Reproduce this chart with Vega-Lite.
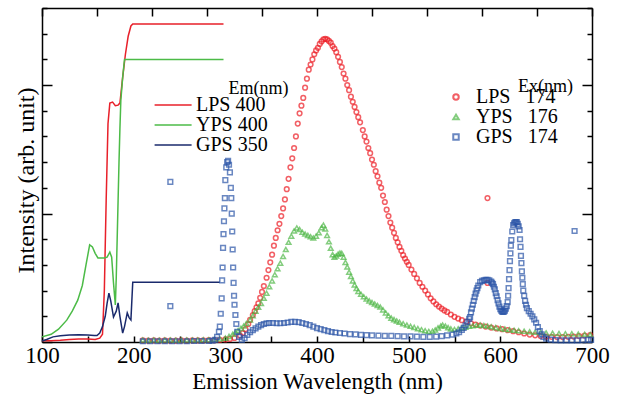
{
"$schema": "https://vega.github.io/schema/vega-lite/v6.json",
"width": 550, "height": 334,
"autosize": {"type": "none"},
"padding": {"left": 42, "top": 8, "right": 26, "bottom": 52},
"background": "white",
"config": {
  "view": {"stroke": null},
  "font": "Liberation Serif",
  "axis": {"grid": false, "domainColor": "black", "domainWidth": 1.5, "tickColor": "black", "tickWidth": 1.5,
    "labelFont": "Liberation Serif", "labelFontSize": 23, "labelColor": "black", "titleFont": "Liberation Serif",
    "titleFontSize": 23, "titleFontWeight": "normal", "titleColor": "black", "labelFlush": false, "labelOverlap": false}
},
"datasets": {
"ex": [
{"sample":"LPS","nm":100,"v":0.05},{"sample":"LPS","nm":110,"v":0.05},{"sample":"LPS","nm":120,"v":0.07},{"sample":"LPS","nm":130,"v":0.1},{"sample":"LPS","nm":140,"v":0.12},{"sample":"LPS","nm":150,"v":0.12},{"sample":"LPS","nm":158,"v":0.1},{"sample":"LPS","nm":163,"v":0.15},{"sample":"LPS","nm":166,"v":0.3},{"sample":"LPS","nm":168,"v":2.0},{"sample":"LPS","nm":170,"v":5.5},{"sample":"LPS","nm":172,"v":8.5},{"sample":"LPS","nm":174,"v":9.3},{"sample":"LPS","nm":177,"v":9.34},{"sample":"LPS","nm":180,"v":9.2},{"sample":"LPS","nm":183,"v":9.22},{"sample":"LPS","nm":185,"v":9.3},{"sample":"LPS","nm":188,"v":10.3},{"sample":"LPS","nm":191,"v":11.2},{"sample":"LPS","nm":194,"v":11.9},{"sample":"LPS","nm":197,"v":12.3},{"sample":"LPS","nm":199,"v":12.38},{"sample":"LPS","nm":298,"v":12.38},
{"sample":"YPS","nm":100,"v":0.2},{"sample":"YPS","nm":110,"v":0.3},{"sample":"YPS","nm":118,"v":0.5},{"sample":"YPS","nm":127,"v":0.85},{"sample":"YPS","nm":133,"v":1.2},{"sample":"YPS","nm":139,"v":1.63},{"sample":"YPS","nm":144,"v":2.2},{"sample":"YPS","nm":148,"v":3.0},{"sample":"YPS","nm":152,"v":3.78},{"sample":"YPS","nm":155,"v":3.7},{"sample":"YPS","nm":158,"v":3.45},{"sample":"YPS","nm":161,"v":3.27},{"sample":"YPS","nm":168,"v":3.27},{"sample":"YPS","nm":171,"v":3.3},{"sample":"YPS","nm":174,"v":3.5},{"sample":"YPS","nm":176,"v":3.3},{"sample":"YPS","nm":178,"v":2.3},{"sample":"YPS","nm":180,"v":1.44},{"sample":"YPS","nm":181,"v":2.5},{"sample":"YPS","nm":182,"v":4.0},{"sample":"YPS","nm":183,"v":5.5},{"sample":"YPS","nm":184,"v":7.0},{"sample":"YPS","nm":185,"v":8.3},{"sample":"YPS","nm":186,"v":9.4},{"sample":"YPS","nm":188,"v":10.3},{"sample":"YPS","nm":190,"v":11.0},{"sample":"YPS","nm":298,"v":11.0},
{"sample":"GPS","nm":100,"v":0.04},{"sample":"GPS","nm":105,"v":0.1},{"sample":"GPS","nm":112,"v":0.2},{"sample":"GPS","nm":120,"v":0.24},{"sample":"GPS","nm":130,"v":0.27},{"sample":"GPS","nm":140,"v":0.28},{"sample":"GPS","nm":150,"v":0.27},{"sample":"GPS","nm":157,"v":0.25},{"sample":"GPS","nm":160,"v":0.25},{"sample":"GPS","nm":163,"v":0.35},{"sample":"GPS","nm":166,"v":0.6},{"sample":"GPS","nm":169,"v":1.0},{"sample":"GPS","nm":171,"v":1.5},{"sample":"GPS","nm":173,"v":1.9},{"sample":"GPS","nm":175,"v":1.6},{"sample":"GPS","nm":178,"v":0.97},{"sample":"GPS","nm":181,"v":1.2},{"sample":"GPS","nm":183,"v":1.52},{"sample":"GPS","nm":185,"v":1.0},{"sample":"GPS","nm":188,"v":0.35},{"sample":"GPS","nm":190,"v":0.6},{"sample":"GPS","nm":193,"v":1.13},{"sample":"GPS","nm":195,"v":0.95},{"sample":"GPS","nm":197,"v":0.86},{"sample":"GPS","nm":198,"v":1.6},{"sample":"GPS","nm":199,"v":2.33},{"sample":"GPS","nm":294,"v":2.33}
],
"em": [
{"series":"LPS","nm":210,"v":0.06},{"series":"LPS","nm":216,"v":0.05},{"series":"LPS","nm":222,"v":0.06},{"series":"LPS","nm":228,"v":0.05},{"series":"LPS","nm":234,"v":0.06},{"series":"LPS","nm":240,"v":0.05},{"series":"LPS","nm":246,"v":0.05},{"series":"LPS","nm":252,"v":0.06},{"series":"LPS","nm":258,"v":0.05},{"series":"LPS","nm":264,"v":0.06},{"series":"LPS","nm":270,"v":0.06},{"series":"LPS","nm":276,"v":0.06},{"series":"LPS","nm":282,"v":0.07},{"series":"LPS","nm":288,"v":0.07},{"series":"LPS","nm":294,"v":0.08},{"series":"LPS","nm":300,"v":0.1},{"series":"LPS","nm":305,"v":0.12},{"series":"LPS","nm":310,"v":0.16},{"series":"LPS","nm":316,"v":0.25},{"series":"LPS","nm":319,"v":0.35},{"series":"LPS","nm":322,"v":0.5},{"series":"LPS","nm":325,"v":0.7},{"series":"LPS","nm":327,"v":0.86},{"series":"LPS","nm":330,"v":1.05},{"series":"LPS","nm":332,"v":1.2},{"series":"LPS","nm":334,"v":1.35},{"series":"LPS","nm":336,"v":1.5},{"series":"LPS","nm":338,"v":1.72},{"series":"LPS","nm":340,"v":1.95},{"series":"LPS","nm":342,"v":2.18},{"series":"LPS","nm":345,"v":2.5},{"series":"LPS","nm":347,"v":2.8},{"series":"LPS","nm":349,"v":3.1},{"series":"LPS","nm":351,"v":3.4},{"series":"LPS","nm":353,"v":3.75},{"series":"LPS","nm":355,"v":4.05},{"series":"LPS","nm":357,"v":4.35},{"series":"LPS","nm":359,"v":4.6},{"series":"LPS","nm":361,"v":4.9},{"series":"LPS","nm":363,"v":5.2},{"series":"LPS","nm":365,"v":5.55},{"series":"LPS","nm":367,"v":5.95},{"series":"LPS","nm":369,"v":6.35},{"series":"LPS","nm":371,"v":6.8},{"series":"LPS","nm":373,"v":7.15},{"series":"LPS","nm":375,"v":7.55},{"series":"LPS","nm":377,"v":8.0},{"series":"LPS","nm":379,"v":8.5},{"series":"LPS","nm":381,"v":8.9},{"series":"LPS","nm":383,"v":9.2},{"series":"LPS","nm":385,"v":9.5},{"series":"LPS","nm":387,"v":9.9},{"series":"LPS","nm":389,"v":10.25},{"series":"LPS","nm":391,"v":10.6},{"series":"LPS","nm":393,"v":10.8},{"series":"LPS","nm":395,"v":11.0},{"series":"LPS","nm":397,"v":11.2},{"series":"LPS","nm":399,"v":11.35},{"series":"LPS","nm":401,"v":11.45},{"series":"LPS","nm":403,"v":11.6},{"series":"LPS","nm":405,"v":11.7},{"series":"LPS","nm":407,"v":11.78},{"series":"LPS","nm":409,"v":11.8},{"series":"LPS","nm":411,"v":11.78},{"series":"LPS","nm":413,"v":11.72},{"series":"LPS","nm":415,"v":11.65},{"series":"LPS","nm":417,"v":11.52},{"series":"LPS","nm":419,"v":11.42},{"series":"LPS","nm":421,"v":11.28},{"series":"LPS","nm":423,"v":11.1},{"series":"LPS","nm":425,"v":10.9},{"series":"LPS","nm":427,"v":10.7},{"series":"LPS","nm":429,"v":10.45},{"series":"LPS","nm":431,"v":10.25},{"series":"LPS","nm":433,"v":10.0},{"series":"LPS","nm":435,"v":9.8},{"series":"LPS","nm":437,"v":9.55},{"series":"LPS","nm":439,"v":9.35},{"series":"LPS","nm":441,"v":9.15},{"series":"LPS","nm":443,"v":8.95},{"series":"LPS","nm":445,"v":8.75},{"series":"LPS","nm":447,"v":8.55},{"series":"LPS","nm":450,"v":8.25},{"series":"LPS","nm":452,"v":8.0},{"series":"LPS","nm":454,"v":7.8},{"series":"LPS","nm":456,"v":7.55},{"series":"LPS","nm":458,"v":7.35},{"series":"LPS","nm":460,"v":7.1},{"series":"LPS","nm":462,"v":6.9},{"series":"LPS","nm":464,"v":6.65},{"series":"LPS","nm":466,"v":6.45},{"series":"LPS","nm":468,"v":6.2},{"series":"LPS","nm":470,"v":6.0},{"series":"LPS","nm":472,"v":5.7},{"series":"LPS","nm":474,"v":5.45},{"series":"LPS","nm":476,"v":5.15},{"series":"LPS","nm":478,"v":4.9},{"series":"LPS","nm":480,"v":4.65},{"series":"LPS","nm":482,"v":4.45},{"series":"LPS","nm":484,"v":4.25},{"series":"LPS","nm":486,"v":4.05},{"series":"LPS","nm":488,"v":3.88},{"series":"LPS","nm":490,"v":3.7},{"series":"LPS","nm":492,"v":3.55},{"series":"LPS","nm":494,"v":3.38},{"series":"LPS","nm":496,"v":3.25},{"series":"LPS","nm":498,"v":3.12},{"series":"LPS","nm":500,"v":3.0},{"series":"LPS","nm":503,"v":2.82},{"series":"LPS","nm":506,"v":2.65},{"series":"LPS","nm":509,"v":2.48},{"series":"LPS","nm":512,"v":2.3},{"series":"LPS","nm":515,"v":2.15},{"series":"LPS","nm":518,"v":2.0},{"series":"LPS","nm":521,"v":1.85},{"series":"LPS","nm":524,"v":1.7},{"series":"LPS","nm":527,"v":1.58},{"series":"LPS","nm":530,"v":1.47},{"series":"LPS","nm":533,"v":1.38},{"series":"LPS","nm":536,"v":1.3},{"series":"LPS","nm":539,"v":1.23},{"series":"LPS","nm":542,"v":1.17},{"series":"LPS","nm":546,"v":1.07},{"series":"LPS","nm":550,"v":0.98},{"series":"LPS","nm":554,"v":0.91},{"series":"LPS","nm":558,"v":0.85},{"series":"LPS","nm":563,"v":0.79},{"series":"LPS","nm":568,"v":0.73},{"series":"LPS","nm":573,"v":0.68},{"series":"LPS","nm":578,"v":0.64},{"series":"LPS","nm":584,"v":0.6},{"series":"LPS","nm":590,"v":0.56},{"series":"LPS","nm":596,"v":0.53},{"series":"LPS","nm":602,"v":0.5},{"series":"LPS","nm":608,"v":0.46},{"series":"LPS","nm":614,"v":0.42},{"series":"LPS","nm":620,"v":0.38},{"series":"LPS","nm":626,"v":0.33},{"series":"LPS","nm":632,"v":0.29},{"series":"LPS","nm":638,"v":0.26},{"series":"LPS","nm":644,"v":0.23},{"series":"LPS","nm":650,"v":0.21},{"series":"LPS","nm":656,"v":0.2},{"series":"LPS","nm":662,"v":0.19},{"series":"LPS","nm":668,"v":0.19},{"series":"LPS","nm":674,"v":0.2},{"series":"LPS","nm":680,"v":0.21},{"series":"LPS","nm":686,"v":0.23},{"series":"LPS","nm":692,"v":0.25},{"series":"LPS","nm":698,"v":0.27},{"series":"LPS","nm":586,"v":5.6},{"series":"LPS","nm":586,"v":2.3},
{"series":"YPS","nm":210,"v":0.08},{"series":"YPS","nm":216,"v":0.07},{"series":"YPS","nm":222,"v":0.08},{"series":"YPS","nm":228,"v":0.07},{"series":"YPS","nm":234,"v":0.08},{"series":"YPS","nm":240,"v":0.08},{"series":"YPS","nm":246,"v":0.07},{"series":"YPS","nm":252,"v":0.08},{"series":"YPS","nm":258,"v":0.08},{"series":"YPS","nm":264,"v":0.08},{"series":"YPS","nm":270,"v":0.08},{"series":"YPS","nm":276,"v":0.09},{"series":"YPS","nm":282,"v":0.09},{"series":"YPS","nm":288,"v":0.1},{"series":"YPS","nm":294,"v":0.12},{"series":"YPS","nm":300,"v":0.15},{"series":"YPS","nm":304,"v":0.22},{"series":"YPS","nm":308,"v":0.3},{"series":"YPS","nm":311,"v":0.38},{"series":"YPS","nm":314,"v":0.45},{"series":"YPS","nm":317,"v":0.53},{"series":"YPS","nm":320,"v":0.62},{"series":"YPS","nm":323,"v":0.72},{"series":"YPS","nm":327,"v":0.86},{"series":"YPS","nm":330,"v":1.02},{"series":"YPS","nm":333,"v":1.2},{"series":"YPS","nm":336,"v":1.35},{"series":"YPS","nm":339,"v":1.5},{"series":"YPS","nm":342,"v":1.7},{"series":"YPS","nm":345,"v":1.9},{"series":"YPS","nm":348,"v":2.15},{"series":"YPS","nm":351,"v":2.38},{"series":"YPS","nm":354,"v":2.62},{"series":"YPS","nm":357,"v":2.85},{"series":"YPS","nm":360,"v":3.07},{"series":"YPS","nm":363,"v":3.33},{"series":"YPS","nm":366,"v":3.6},{"series":"YPS","nm":369,"v":3.88},{"series":"YPS","nm":372,"v":4.12},{"series":"YPS","nm":375,"v":4.32},{"series":"YPS","nm":378,"v":4.44},{"series":"YPS","nm":381,"v":4.38},{"series":"YPS","nm":384,"v":4.27},{"series":"YPS","nm":387,"v":4.2},{"series":"YPS","nm":390,"v":4.15},{"series":"YPS","nm":393,"v":4.1},{"series":"YPS","nm":396,"v":4.05},{"series":"YPS","nm":399,"v":4.12},{"series":"YPS","nm":402,"v":4.25},{"series":"YPS","nm":405,"v":4.45},{"series":"YPS","nm":407,"v":4.55},{"series":"YPS","nm":409,"v":4.4},{"series":"YPS","nm":411,"v":4.15},{"series":"YPS","nm":413,"v":3.9},{"series":"YPS","nm":415,"v":3.65},{"series":"YPS","nm":417,"v":3.4},{"series":"YPS","nm":419,"v":3.3},{"series":"YPS","nm":421,"v":3.35},{"series":"YPS","nm":423,"v":3.42},{"series":"YPS","nm":425,"v":3.46},{"series":"YPS","nm":427,"v":3.45},{"series":"YPS","nm":429,"v":3.3},{"series":"YPS","nm":431,"v":3.1},{"series":"YPS","nm":433,"v":2.92},{"series":"YPS","nm":435,"v":2.72},{"series":"YPS","nm":437,"v":2.55},{"series":"YPS","nm":439,"v":2.38},{"series":"YPS","nm":441,"v":2.22},{"series":"YPS","nm":443,"v":2.08},{"series":"YPS","nm":445,"v":1.97},{"series":"YPS","nm":448,"v":1.86},{"series":"YPS","nm":451,"v":1.76},{"series":"YPS","nm":454,"v":1.67},{"series":"YPS","nm":457,"v":1.6},{"series":"YPS","nm":460,"v":1.54},{"series":"YPS","nm":463,"v":1.48},{"series":"YPS","nm":466,"v":1.42},{"series":"YPS","nm":469,"v":1.36},{"series":"YPS","nm":472,"v":1.25},{"series":"YPS","nm":475,"v":1.13},{"series":"YPS","nm":478,"v":1.02},{"series":"YPS","nm":481,"v":0.93},{"series":"YPS","nm":484,"v":0.87},{"series":"YPS","nm":487,"v":0.82},{"series":"YPS","nm":490,"v":0.77},{"series":"YPS","nm":494,"v":0.71},{"series":"YPS","nm":498,"v":0.66},{"series":"YPS","nm":502,"v":0.61},{"series":"YPS","nm":506,"v":0.57},{"series":"YPS","nm":510,"v":0.52},{"series":"YPS","nm":514,"v":0.48},{"series":"YPS","nm":518,"v":0.44},{"series":"YPS","nm":522,"v":0.41},{"series":"YPS","nm":526,"v":0.42},{"series":"YPS","nm":529,"v":0.47},{"series":"YPS","nm":532,"v":0.55},{"series":"YPS","nm":535,"v":0.62},{"series":"YPS","nm":537,"v":0.66},{"series":"YPS","nm":540,"v":0.62},{"series":"YPS","nm":543,"v":0.56},{"series":"YPS","nm":546,"v":0.51},{"series":"YPS","nm":550,"v":0.49},{"series":"YPS","nm":554,"v":0.51},{"series":"YPS","nm":558,"v":0.55},{"series":"YPS","nm":562,"v":0.58},{"series":"YPS","nm":566,"v":0.61},{"series":"YPS","nm":570,"v":0.63},{"series":"YPS","nm":574,"v":0.65},{"series":"YPS","nm":578,"v":0.66},{"series":"YPS","nm":582,"v":0.64},{"series":"YPS","nm":586,"v":0.62},{"series":"YPS","nm":590,"v":0.59},{"series":"YPS","nm":595,"v":0.56},{"series":"YPS","nm":600,"v":0.53},{"series":"YPS","nm":605,"v":0.5},{"series":"YPS","nm":610,"v":0.48},{"series":"YPS","nm":615,"v":0.46},{"series":"YPS","nm":620,"v":0.44},{"series":"YPS","nm":626,"v":0.42},{"series":"YPS","nm":632,"v":0.4},{"series":"YPS","nm":638,"v":0.38},{"series":"YPS","nm":644,"v":0.37},{"series":"YPS","nm":650,"v":0.35},{"series":"YPS","nm":657,"v":0.34},{"series":"YPS","nm":664,"v":0.33},{"series":"YPS","nm":671,"v":0.32},{"series":"YPS","nm":678,"v":0.32},{"series":"YPS","nm":685,"v":0.31},{"series":"YPS","nm":692,"v":0.3},{"series":"YPS","nm":698,"v":0.29},
{"series":"GPS","nm":210,"v":0.03},{"series":"GPS","nm":218,"v":0.03},{"series":"GPS","nm":226,"v":0.03},{"series":"GPS","nm":234,"v":0.03},{"series":"GPS","nm":242,"v":0.03},{"series":"GPS","nm":250,"v":0.03},{"series":"GPS","nm":258,"v":0.03},{"series":"GPS","nm":266,"v":0.04},{"series":"GPS","nm":274,"v":0.04},{"series":"GPS","nm":282,"v":0.04},{"series":"GPS","nm":286,"v":0.05},{"series":"GPS","nm":289,"v":0.08},{"series":"GPS","nm":291,"v":0.2},{"series":"GPS","nm":293,"v":0.4},{"series":"GPS","nm":294,"v":0.6},{"series":"GPS","nm":295,"v":1.1},{"series":"GPS","nm":296,"v":1.7},{"series":"GPS","nm":296.5,"v":2.4},{"series":"GPS","nm":297,"v":2.9},{"series":"GPS","nm":297.5,"v":3.66},{"series":"GPS","nm":298,"v":4.2},{"series":"GPS","nm":298.5,"v":4.7},{"series":"GPS","nm":299,"v":5.2},{"series":"GPS","nm":299.5,"v":5.6},{"series":"GPS","nm":300,"v":6.3},{"series":"GPS","nm":301,"v":6.8},{"series":"GPS","nm":302,"v":7.0},{"series":"GPS","nm":303,"v":7.05},{"series":"GPS","nm":304,"v":6.9},{"series":"GPS","nm":305,"v":6.6},{"series":"GPS","nm":306,"v":6.0},{"series":"GPS","nm":306.5,"v":5.6},{"series":"GPS","nm":307,"v":5.0},{"series":"GPS","nm":307.5,"v":4.3},{"series":"GPS","nm":308,"v":3.6},{"series":"GPS","nm":308.5,"v":2.9},{"series":"GPS","nm":309,"v":2.3},{"series":"GPS","nm":309.5,"v":1.8},{"series":"GPS","nm":310,"v":1.45},{"series":"GPS","nm":311,"v":1.05},{"series":"GPS","nm":312,"v":0.7},{"series":"GPS","nm":313,"v":0.4},{"series":"GPS","nm":315,"v":0.2},{"series":"GPS","nm":318,"v":0.08},{"series":"GPS","nm":321,"v":0.15},{"series":"GPS","nm":324,"v":0.28},{"series":"GPS","nm":327,"v":0.38},{"series":"GPS","nm":330,"v":0.46},{"series":"GPS","nm":333,"v":0.53},{"series":"GPS","nm":336,"v":0.6},{"series":"GPS","nm":339,"v":0.66},{"series":"GPS","nm":342,"v":0.7},{"series":"GPS","nm":345,"v":0.73},{"series":"GPS","nm":348,"v":0.74},{"series":"GPS","nm":352,"v":0.74},{"series":"GPS","nm":356,"v":0.73},{"series":"GPS","nm":360,"v":0.73},{"series":"GPS","nm":364,"v":0.74},{"series":"GPS","nm":368,"v":0.76},{"series":"GPS","nm":372,"v":0.78},{"series":"GPS","nm":376,"v":0.78},{"series":"GPS","nm":380,"v":0.77},{"series":"GPS","nm":384,"v":0.74},{"series":"GPS","nm":388,"v":0.7},{"series":"GPS","nm":392,"v":0.66},{"series":"GPS","nm":396,"v":0.6},{"series":"GPS","nm":400,"v":0.54},{"series":"GPS","nm":404,"v":0.5},{"series":"GPS","nm":408,"v":0.46},{"series":"GPS","nm":412,"v":0.42},{"series":"GPS","nm":416,"v":0.39},{"series":"GPS","nm":420,"v":0.37},{"series":"GPS","nm":425,"v":0.35},{"series":"GPS","nm":430,"v":0.33},{"series":"GPS","nm":436,"v":0.31},{"series":"GPS","nm":442,"v":0.3},{"series":"GPS","nm":448,"v":0.28},{"series":"GPS","nm":454,"v":0.27},{"series":"GPS","nm":460,"v":0.26},{"series":"GPS","nm":467,"v":0.25},{"series":"GPS","nm":474,"v":0.24},{"series":"GPS","nm":481,"v":0.24},{"series":"GPS","nm":488,"v":0.23},{"series":"GPS","nm":495,"v":0.22},{"series":"GPS","nm":502,"v":0.22},{"series":"GPS","nm":509,"v":0.21},{"series":"GPS","nm":516,"v":0.2},{"series":"GPS","nm":523,"v":0.2},{"series":"GPS","nm":530,"v":0.21},{"series":"GPS","nm":536,"v":0.23},{"series":"GPS","nm":542,"v":0.26},{"series":"GPS","nm":548,"v":0.29},{"series":"GPS","nm":552,"v":0.33},{"series":"GPS","nm":555,"v":0.38},{"series":"GPS","nm":558,"v":0.47},{"series":"GPS","nm":560,"v":0.55},{"series":"GPS","nm":562,"v":0.65},{"series":"GPS","nm":564,"v":0.78},{"series":"GPS","nm":566,"v":0.9},{"series":"GPS","nm":567,"v":0.97},{"series":"GPS","nm":568,"v":1.15},{"series":"GPS","nm":569,"v":1.3},{"series":"GPS","nm":570,"v":1.45},{"series":"GPS","nm":571,"v":1.6},{"series":"GPS","nm":572,"v":1.75},{"series":"GPS","nm":573,"v":1.88},{"series":"GPS","nm":574,"v":2.0},{"series":"GPS","nm":575,"v":2.1},{"series":"GPS","nm":576,"v":2.2},{"series":"GPS","nm":578,"v":2.33},{"series":"GPS","nm":580,"v":2.38},{"series":"GPS","nm":582,"v":2.4},{"series":"GPS","nm":584,"v":2.42},{"series":"GPS","nm":586,"v":2.42},{"series":"GPS","nm":588,"v":2.4},{"series":"GPS","nm":590,"v":2.35},{"series":"GPS","nm":591,"v":2.3},{"series":"GPS","nm":592,"v":2.25},{"series":"GPS","nm":593,"v":2.15},{"series":"GPS","nm":594,"v":2.05},{"series":"GPS","nm":595,"v":1.9},{"series":"GPS","nm":596,"v":1.78},{"series":"GPS","nm":597,"v":1.63},{"series":"GPS","nm":598,"v":1.5},{"series":"GPS","nm":599,"v":1.38},{"series":"GPS","nm":600,"v":1.28},{"series":"GPS","nm":601,"v":1.22},{"series":"GPS","nm":602,"v":1.18},{"series":"GPS","nm":603,"v":1.17},{"series":"GPS","nm":604,"v":1.18},{"series":"GPS","nm":605,"v":1.22},{"series":"GPS","nm":606,"v":1.3},{"series":"GPS","nm":607,"v":1.4},{"series":"GPS","nm":608,"v":1.55},{"series":"GPS","nm":608.5,"v":1.8},{"series":"GPS","nm":609,"v":2.1},{"series":"GPS","nm":609.5,"v":2.45},{"series":"GPS","nm":610,"v":2.8},{"series":"GPS","nm":610.5,"v":3.15},{"series":"GPS","nm":611,"v":3.45},{"series":"GPS","nm":611.5,"v":3.75},{"series":"GPS","nm":612,"v":3.97},{"series":"GPS","nm":613,"v":4.3},{"series":"GPS","nm":614,"v":4.55},{"series":"GPS","nm":615,"v":4.62},{"series":"GPS","nm":616,"v":4.66},{"series":"GPS","nm":617,"v":4.67},{"series":"GPS","nm":618,"v":4.67},{"series":"GPS","nm":619,"v":4.6},{"series":"GPS","nm":620,"v":4.5},{"series":"GPS","nm":621,"v":4.36},{"series":"GPS","nm":621.5,"v":4.0},{"series":"GPS","nm":622,"v":3.7},{"series":"GPS","nm":622.5,"v":3.35},{"series":"GPS","nm":623,"v":3.07},{"series":"GPS","nm":623.5,"v":2.75},{"series":"GPS","nm":624,"v":2.5},{"series":"GPS","nm":624.5,"v":2.25},{"series":"GPS","nm":625,"v":2.0},{"series":"GPS","nm":626,"v":1.8},{"series":"GPS","nm":627,"v":1.6},{"series":"GPS","nm":628,"v":1.45},{"series":"GPS","nm":629,"v":1.32},{"series":"GPS","nm":631,"v":1.2},{"series":"GPS","nm":633,"v":1.1},{"series":"GPS","nm":635,"v":1.0},{"series":"GPS","nm":637,"v":0.88},{"series":"GPS","nm":639,"v":0.75},{"series":"GPS","nm":641,"v":0.58},{"series":"GPS","nm":643,"v":0.42},{"series":"GPS","nm":645,"v":0.3},{"series":"GPS","nm":647,"v":0.2},{"series":"GPS","nm":650,"v":0.13},{"series":"GPS","nm":655,"v":0.09},{"series":"GPS","nm":660,"v":0.07},{"series":"GPS","nm":666,"v":0.06},{"series":"GPS","nm":672,"v":0.06},{"series":"GPS","nm":678,"v":0.06},{"series":"GPS","nm":684,"v":0.06},{"series":"GPS","nm":690,"v":0.07},{"series":"GPS","nm":696,"v":0.08},{"series":"GPS","nm":699,"v":0.08},{"series":"GPS","nm":240,"v":6.23},{"series":"GPS","nm":240,"v":1.4},{"series":"GPS","nm":681,"v":4.32}
]
},
"layer": [
 {
  "data": {"name": "ex"},
  "mark": {"type": "line", "strokeWidth": 1.5},
  "encoding": {
   "x": {"field": "nm", "type": "quantitative", "scale": {"domain": [100, 700], "nice": false, "zero": false},
     "axis": {"orient": "bottom", "values": [100,150,200,250,300,350,400,450,500,550,600,650,700],
       "labelExpr": "datum.value % 100 === 0 ? datum.label : ''", "tickSize": -6, "labelPadding": 8,
       "labelFont": "Liberation Serif", "labelFontSize": 23, "titleFont": "Liberation Serif", "titleFontSize": 23, "titleFontWeight": "normal",
       "title": "Emission Wavelength (nm)", "titleX": 275, "titleY": 46, "titleBaseline": "alphabetic", "titleAlign": "center"}},
   "y": {"field": "v", "type": "quantitative", "scale": {"domain": [0, 13], "nice": false, "zero": true},
     "axis": {"orient": "left", "values": [0,1,2,3,4,5,6,7,8,9,10,11,12,13], "labels": false,
       "tickSize": {"condition": {"test": "datum.value % 5 === 0", "value": -10}, "value": -5},
       "titleFont": "Liberation Serif", "titleFontWeight": "normal",
       "title": "Intensity (arb. unit)", "titleFontSize": 24, "titleAngle": -90, "titleX": -9, "titleY": 172, "titleBaseline": "alphabetic", "titleAlign": "center"}},
   "stroke": {"field": "sample", "type": "nominal",
     "scale": {"domain": ["LPS", "YPS", "GPS"], "range": ["#e8202a", "#4cbb47", "#1a2a6c"]},
     "legend": {"orient": "none", "legendX": 110, "legendY": 72, "padding": 0,
       "title": "\u200b\u00a0\u00a0\u00a0\u00a0\u00a0\u00a0\u00a0\u00a0\u00a0\u00a0\u00a0\u00a0\u00a0\u00a0\u00a0\u00a0\u00a0Em(nm)",
       "titleFont": "Liberation Serif", "titleFontSize": 18, "titleFontWeight": "normal", "titleColor": "black",
       "titleAnchor": "start", "titleAlign": "left", "titlePadding": -3,
       "labelFont": "Liberation Serif", "labelFontSize": 20, "labelColor": "black",
       "labelExpr": "datum.label == 'LPS' ? 'LPS 400' : datum.label == 'YPS' ? 'YPS 400' : 'GPS 350'",
       "symbolType": "M-1,0H4", "symbolSize": 219, "symbolStrokeWidth": 1.5, "labelOffset": 24,
       "clipHeight": 20, "rowPadding": -2}}
  }
 },
 {
  "data": {"name": "em"},
  "mark": {"type": "point", "filled": false, "strokeWidth": 1.5, "size": 22},
  "encoding": {
   "x": {"field": "nm", "type": "quantitative", "scale": {"domain": [100, 700], "nice": false, "zero": false},
     "axis": {"orient": "top", "values": [100,160,220,280,340,400,460,520,580,640,700], "labels": false, "tickSize": -8, "title": null}},
   "y": {"field": "v", "type": "quantitative", "scale": {"domain": [0, 13], "nice": false, "zero": true},
     "axis": {"orient": "right", "values": [0,1,2,3,4,5,6,7,8,9,10,11,12,13], "labels": false,
       "tickSize": {"condition": {"test": "datum.value % 5 === 0", "value": -10}, "value": -5}, "title": null}},
   "color": {"field": "series", "type": "nominal",
     "scale": {"domain": ["LPS", "YPS", "GPS"], "range": ["#ed1c24", "#50b848", "#2b55a8"]},
     "legend": {"orient": "none", "legendX": 404, "legendY": 70, "padding": 0,
       "title": "\u200b\u00a0\u00a0\u00a0\u00a0\u00a0\u00a0\u00a0\u00a0\u00a0\u00a0\u00a0\u00a0\u00a0\u00a0\u00a0\u00a0Ex(nm)",
       "titleFont": "Liberation Serif", "titleFontSize": 18, "titleFontWeight": "normal", "titleColor": "black",
       "titleAnchor": "start", "titleAlign": "left", "titlePadding": -9,
       "labelFont": "Liberation Serif", "labelFontSize": 20, "labelColor": "black",
       "labelExpr": "datum.label == 'LPS' ? 'LPS\u00a0\u00a0\u00a0174' : datum.label == 'YPS' ? 'YPS\u00a0\u00a0\u00a0176' : 'GPS\u00a0\u00a0\u00a0174'",
       "symbolSize": 30, "symbolStrokeWidth": 2, "labelOffset": 10, "rowPadding": -3}},
   "shape": {"field": "series", "type": "nominal",
     "scale": {"domain": ["LPS", "YPS", "GPS"], "range": ["circle", "triangle-up", "square"]}}
  }
 }
],
"resolve": {"axis": {"x": "independent", "y": "independent"},
  "scale": {"color": "independent", "stroke": "independent", "shape": "independent"},
  "legend": {"color": "independent", "stroke": "independent", "shape": "independent"}}
}
